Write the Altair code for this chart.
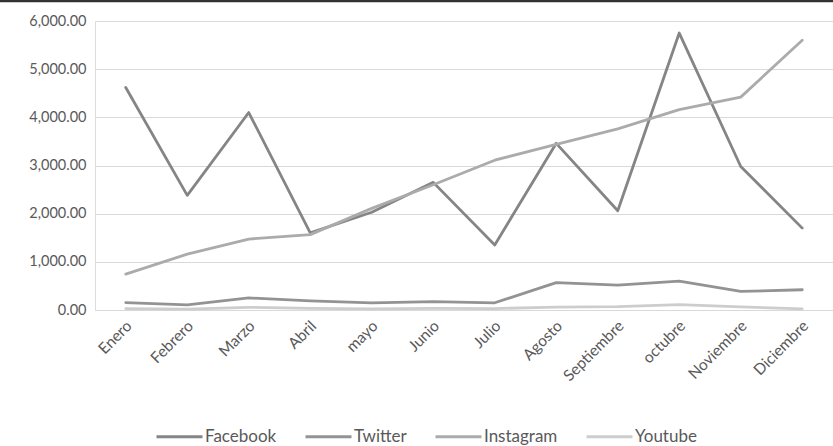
import altair as alt
import pandas as pd

months = ["Enero", "Febrero", "Marzo", "Abril", "mayo", "Junio", "Julio",
          "Agosto", "Septiembre", "octubre", "Noviembre", "Diciembre"]
series_names = ["Facebook", "Twitter", "Instagram", "Youtube"]
facebook = [4620, 2380, 4100, 1600, 2030, 2650, 1350, 3460, 2060, 5750, 2980, 1700]
twitter = [155, 105, 250, 190, 150, 175, 150, 567, 515, 600, 385, 420]
instagram = [745, 1160, 1473, 1565, 2110, 2600, 3110, 3440, 3760, 4160, 4420, 5600]
youtube = [30, 20, 55, 35, 25, 35, 30, 60, 70, 110, 65, 25]
colors = ["#858585", "#939393", "#ababab", "#cdcdcd"]

rows = []
for name, vals in zip(series_names, [facebook, twitter, instagram, youtube]):
    for m, v in zip(months, vals):
        rows.append({"Mes": m, "Serie": name, "Valor": v, "ord": series_names.index(name)})
df = pd.DataFrame(rows)

font = "Lato"
W, H = 738, 289

lines = alt.Chart(df).mark_line(strokeWidth=2.8, strokeCap="round", strokeJoin="round").encode(
    x=alt.X("Mes:N", sort=months, title=None,
            scale=alt.Scale(paddingInner=0, paddingOuter=0.5),
            axis=alt.Axis(labelAngle=-45, labelAlign="right", labelBaseline="middle",
                          labelPadding=13, labelOffset=3, ticks=False, domain=False, grid=False,
                          labelFont=font, labelFontSize=15.5, labelColor="#595959")),
    y=alt.Y("Valor:Q", title=None,
            scale=alt.Scale(domain=[0, 6000], nice=False),
            axis=alt.Axis(values=[0, 1000, 2000, 3000, 4000, 5000, 6000], format=",.2f",
                          ticks=False, domain=False, gridColor="#d9d9d9", gridWidth=1.2,
                          labelFont=font, labelFontSize=14.5, labelColor="#595959",
                          labelPadding=9)),
    color=alt.Color("Serie:N", sort=series_names,
                    scale=alt.Scale(domain=series_names, range=colors),
                    legend=alt.Legend(orient="none", legendX=60, legendY=391, direction="horizontal",
                                      title=None, symbolType="stroke", symbolSize=2116,
                                      symbolStrokeWidth=3, labelFont=font, labelFontSize=17,
                                      labelColor="#595959", columnPadding=22, labelOffset=1,
                                      padding=0)),
    order=alt.Order("ord:Q"),
)

topline = alt.Chart(pd.DataFrame({"a": [0]})).mark_rule(color="#333333", strokeWidth=2.5).encode(
    x=alt.value(-95), x2=alt.value(W + 5), y=alt.value(-20)
)

chart = alt.layer(lines, topline).properties(
    width=W, height=H,
    padding={"left": 95, "top": 21, "right": 0, "bottom": 136},
    autosize=alt.AutoSizeParams(type="none"),
).configure_view(stroke=None).configure(background="white")

chart.save("out.html", embed_options={"renderer": "svg", "actions": False})
